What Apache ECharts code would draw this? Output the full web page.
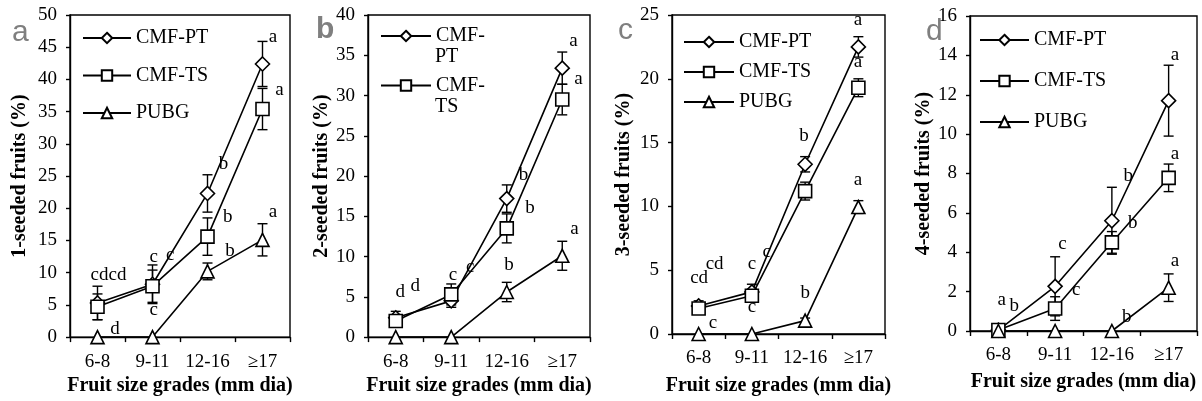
<!DOCTYPE html>
<html><head><meta charset="utf-8">
<script src="https://cdn.jsdelivr.net/npm/echarts@6/dist/echarts.min.js"></script>
<style>html,body{margin:0;padding:0;background:#fff}#c{width:1202px;height:401px}</style>
</head><body><div id="c"></div>
<script>
// ---------- data ----------
const categories = ['6-8', '9-11', '12-16', '≥17'];
const seriesNames = ['CMF-PT', 'CMF-TS', 'PUBG'];
const yTitles = ['1-seeded fruits (%)', '2-seeded fruits (%)', '3-seeded fruits (%)', '4-seeded fruits (%)'];
const xTitle = 'Fruit size grades (mm dia)';
const panelLetters = ['a', 'b', 'c', 'd'];
const yMax = [50, 40, 25, 16];
const yInterval = [5, 5, 5, 2];

// panel a (1-seeded)
const ptA = [5.3, 8.2, 22.3, 42.4];
const ptErrA = [2.6, 3.0, 2.9, 3.5];
const tsA = [4.7, 7.9, 15.6, 35.4];
const tsErrA = [2.0, 2.5, 2.9, 3.2];
const pubgA = [0, 0, 10.2, 15.1];
const pubgErrA = [0, 0, 1.3, 2.5];
// panel b (2-seeded)
const ptB = [2.4, 4.5, 17.2, 33.4];
const ptErrB = [0.8, 0.8, 1.7, 2.0];
const tsB = [2.0, 5.3, 13.5, 29.5];
const tsErrB = [0.6, 1.3, 1.8, 1.9];
const pubgB = [0, 0, 5.6, 10.1];
const pubgErrB = [0, 0, 1.2, 1.8];
// panel c (3-seeded)
const ptC = [2.2, 3.3, 13.3, 22.5];
const ptErrC = [0.4, 0.6, 0.6, 0.8];
const tsC = [2.0, 3.0, 11.2, 19.3];
const tsErrC = [0.4, 0.5, 0.7, 0.7];
const pubgC = [0, 0, 1.05, 9.95];
const pubgErrC = [0, 0, 0.2, 0.5];
// panel d (4-seeded)
const ptD = [0.05, 2.27, 5.6, 11.7];
const ptErrD = [0.1, 1.5, 1.7, 1.8];
const tsD = [0.05, 1.14, 4.5, 7.78];
const tsErrD = [0.05, 0.6, 0.55, 0.7];
const pubgD = [0, 0, 0, 2.2];
const pubgErrD = [0, 0, 0, 0.7];

// significance letters: [category position, value, text]
const lettersA = [[0.2, 9.7, 'cdcd'], [1.02, 12.5, 'c'], [1.32, 12.8, 'c'], [1.02, 4.15, 'c'], [0.32, 1.2, 'd'],
  [2.29, 26.9, 'b'], [2.37, 18.6, 'b'], [2.41, 13.3, 'b'], [3.19, 46.6, 'a'], [3.31, 38.3, 'a'], [3.19, 19.35, 'a']];
const lettersB = [[0.08, 5.65, 'd'], [0.35, 6.3, 'd'], [1.03, 7.7, 'c'], [1.34, 8.7, 'c'],
  [2.3, 20.1, 'b'], [2.42, 16.05, 'b'], [2.04, 8.9, 'b'], [3.2, 36.8, 'a'], [3.29, 32.1, 'a'], [3.22, 13.4, 'a']];
const lettersC = [[0.01, 4.4, 'cd'], [0.3, 5.5, 'cd'], [0.27, 0.9, 'c'], [1.0, 5.5, 'c'], [1.28, 6.4, 'c'], [1.0, 2.15, 'c'],
  [1.98, 15.5, 'b'], [2.0, 3.25, 'b'], [2.99, 24.6, 'a'], [2.99, 21.35, 'a'], [2.99, 12.1, 'a']];
const lettersD = [[0.06, 1.56, 'a'], [0.28, 1.25, 'b'], [1.13, 4.44, 'c'], [1.37, 2.07, 'c'],
  [2.29, 7.88, 'b'], [2.37, 5.49, 'b'], [2.26, 0.71, 'b'], [3.11, 14.0, 'a'], [3.11, 9.0, 'a'], [3.11, 3.54, 'a']];

const panels = [
  {pt: ptA, ptErr: ptErrA, ts: tsA, tsErr: tsErrA, pubg: pubgA, pubgErr: pubgErrA, letters: lettersA},
  {pt: ptB, ptErr: ptErrB, ts: tsB, tsErr: tsErrB, pubg: pubgB, pubgErr: pubgErrB, letters: lettersB},
  {pt: ptC, ptErr: ptErrC, ts: tsC, tsErr: tsErrC, pubg: pubgC, pubgErr: pubgErrC, letters: lettersC},
  {pt: ptD, ptErr: ptErrD, ts: tsD, tsErr: tsErrD, pubg: pubgD, pubgErr: pubgErrD, letters: lettersD}
];

// ---------- layout ----------
const FONT = '"Liberation Serif", "Times New Roman", serif';
const grids = [
  {left: 70, right: 912, top: 15, bottom: 57},
  {left: 368, right: 612, top: 15, bottom: 58},
  {left: 672, right: 317, top: 15, bottom: 66},
  {left: 970, right: 5, top: 16, bottom: 70}
];
const xNameGap = [36, 37, 42, 41];
const yNameGap = [40, 36, 38, 36];
const legendPos = [
  {left: 82, top: 28, itemGap: 17.5, itemWidth: 48},
  {left: 380, top: 26, itemGap: 29.5, itemWidth: 50},
  {left: 683, top: 32, itemGap: 10, itemWidth: 50},
  {left: 979, top: 30, itemGap: 21, itemWidth: 49}
];
const letterPos = [
  {x: 12, y: 18, weight: 'normal', size: 30},
  {x: 316, y: 15, weight: 'bold', size: 30},
  {x: 618, y: 16, weight: 'normal', size: 30},
  {x: 926, y: 17, weight: 'normal', size: 30}
];
const symbols = ['diamond', 'rect', 'triangle'];
const symbolSizes = [14, 13, 13];

function errRender(params, api) {
  const x = api.value(0), lo = api.value(1), hi = api.value(2);
  if (hi - lo <= 0) return null;
  const a = api.coord([x, lo]), b = api.coord([x, hi]);
  const w = 5, st = {stroke: '#000', lineWidth: 1.4};
  return {type: 'group', children: [
    {type: 'line', shape: {x1: a[0], y1: a[1], x2: b[0], y2: b[1]}, style: st},
    {type: 'line', shape: {x1: b[0] - w, y1: b[1], x2: b[0] + w, y2: b[1]}, style: st},
    {type: 'line', shape: {x1: a[0] - w, y1: a[1], x2: a[0] + w, y2: a[1]}, style: st}
  ]};
}

const option = {
  backgroundColor: '#fff',
  animation: false,
  grid: [], xAxis: [], yAxis: [], series: [], legend: [], graphic: []
};

panels.forEach((p, i) => {
  option.grid.push(Object.assign({show: true, borderColor: '#000', borderWidth: 1.4, containLabel: false}, grids[i]));
  option.xAxis.push({
    type: 'category', gridIndex: i, data: categories, boundaryGap: true,
    name: xTitle, nameLocation: 'middle', nameGap: xNameGap[i],
    nameTextStyle: {fontFamily: FONT, fontSize: 20, fontWeight: 'bold', color: '#000'},
    axisLine: {show: true, onZero: false, lineStyle: {color: '#000', width: 1.4}},
    axisTick: {show: true, inside: false, length: 5, alignWithLabel: false, lineStyle: {color: '#000', width: 1.4}},
    axisLabel: {fontFamily: FONT, fontSize: 19, color: '#000', margin: 15, interval: 0},
    splitLine: {show: false}
  });
  option.xAxis.push({type: 'value', gridIndex: i, min: -0.5, max: 3.5, show: false,
    axisLine: {show: false, onZero: false}});
  option.yAxis.push({
    type: 'value', gridIndex: i, min: 0, max: yMax[i], interval: yInterval[i],
    name: yTitles[i], nameLocation: 'middle', nameGap: yNameGap[i], nameRotate: 90,
    nameTextStyle: {fontFamily: FONT, fontSize: 20, fontWeight: 'bold', color: '#000'},
    axisLine: {show: true, onZero: false, lineStyle: {color: '#000', width: 1.4}},
    axisTick: {show: true, inside: false, length: 4, lineStyle: {color: '#000', width: 1.4}},
    axisLabel: {fontFamily: FONT, fontSize: 19, color: '#000', margin: 13},
    splitLine: {show: false}
  });
  const vals = [p.pt, p.ts, p.pubg];
  const errs = [p.ptErr, p.tsErr, p.pubgErr];
  vals.forEach((v, k) => {
    option.series.push({
      type: 'custom', name: 'err' + i + k, xAxisIndex: 2 * i, yAxisIndex: i, z: 2,
      renderItem: errRender, encode: {x: 0, y: [1, 2]},
      data: v.map((y, c) => [c, Math.max(0, y - errs[k][c]), y + errs[k][c]])
    });
    option.series.push({
      type: 'line', name: seriesNames[k], xAxisIndex: 2 * i, yAxisIndex: i, z: 3,
      data: v, symbol: symbols[k], symbolSize: symbolSizes[k], showSymbol: true, showAllSymbol: true,
      clip: false, color: '#000',
      lineStyle: {color: '#000', width: 1.6},
      itemStyle: {color: '#fff', borderColor: '#000', borderWidth: 1.6}
    });
  });
  const letters = p.letters;
  option.series.push({
    type: 'custom', name: 'letters' + i, xAxisIndex: 2 * i + 1, yAxisIndex: i, z: 1, silent: true,
    encode: {x: 0, y: 1},
    data: letters.map(d => [d[0], d[1]]),
    renderItem: (params, api) => {
      const pt = api.coord([api.value(0), api.value(1)]);
      return {type: 'text', x: pt[0], y: pt[1],
        style: {text: letters[params.dataIndex][2], fill: '#000', align: 'center', verticalAlign: 'middle',
          font: '19px ' + FONT}};
    }
  });
  const lp = legendPos[i];
  option.legend.push({
    orient: 'vertical', left: lp.left, top: lp.top, itemGap: lp.itemGap, padding: 0,
    itemWidth: lp.itemWidth, itemHeight: 13,
    data: i === 1 ? seriesNames.slice(0, 2) : seriesNames.slice(),
    formatter: i === 1 ? (n => n.split('-')[0] + '-') : (n => n),
    textStyle: {fontFamily: FONT, fontSize: 20, color: '#000'},
    selectedMode: false
  });
  const L = letterPos[i];
  option.graphic.push({
    type: 'text', left: L.x, top: L.y, z: 10,
    style: {text: panelLetters[i], font: L.weight + ' ' + L.size + 'px "Liberation Sans", Arial, sans-serif', fill: '#7f7f7f'}
  });
});
// second lines of the wrapped legend labels in panel b
const wrapLines = seriesNames.slice(0, 2).map(n => n.split('-')[1]);
option.graphic.push({type: 'text', left: 435, top: 47, style: {text: wrapLines[0], font: '20px ' + FONT, fill: '#000'}});
option.graphic.push({type: 'text', left: 435, top: 97, style: {text: wrapLines[1], font: '20px ' + FONT, fill: '#000'}});

const chart = echarts.init(document.getElementById('c'), null, {renderer: 'canvas'});
chart.setOption(option);
</script>
</body></html>
